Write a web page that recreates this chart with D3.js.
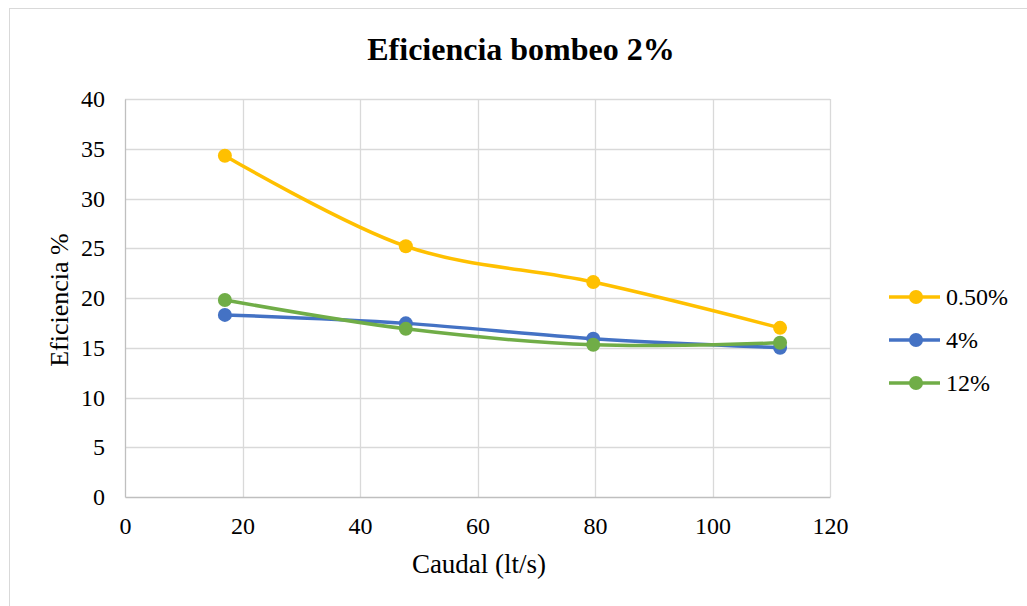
<!DOCTYPE html>
<html><head><meta charset="utf-8">
<script src="https://cdn.jsdelivr.net/npm/d3@7"></script>
<style>body{margin:0;background:#fff}svg{display:block}text{font-family:"Liberation Serif","Times New Roman",serif;fill:#000}</style>
</head><body><svg id="c" width="1027" height="606"></svg>
<script>
const caudal = [17, 47.8, 79.7, 111.5];
const s050 = [34.3, 25.2, 21.6, 17.0];
const s4 = [18.3, 17.45, 15.9, 15.0];
const s12 = [19.8, 16.9, 15.3, 15.5];
const seriesNames = ["0.50%", "4%", "12%"];
const seriesColors = ["#FFC000", "#4472C4", "#70AD47"];
const xTicks = [0, 20, 40, 60, 80, 100, 120];
const yTicks = [0, 5, 10, 15, 20, 25, 30, 35, 40];

const svg = d3.select("#c");
svg.append("rect").attr("x",9.5).attr("y",8.5).attr("width",1040).attr("height",620)
  .attr("fill","#fff").attr("stroke","#d9d9d9");

const x = d3.scaleLinear().domain([0,120]).range([125,830]);
const y = d3.scaleLinear().domain([0,40]).range([497,99]);

// grid
svg.append("g").selectAll("line").data(yTicks.filter(d=>d>0)).join("line")
  .attr("x1",x(0)).attr("x2",x(120)).attr("y1",d=>Math.round(y(d))+0.5).attr("y2",d=>Math.round(y(d))+0.5)
  .attr("stroke","#d9d9d9").attr("stroke-width",1.3);
svg.append("g").selectAll("line").data(xTicks.filter(d=>d>0)).join("line")
  .attr("y1",y(0)).attr("y2",y(40)).attr("x1",d=>Math.round(x(d))+0.5).attr("x2",d=>Math.round(x(d))+0.5)
  .attr("stroke","#d9d9d9").attr("stroke-width",1.3);

// axes
const yAxis = d3.axisLeft(y).tickValues(yTicks).tickSize(0).tickPadding(20);
const gy = svg.append("g").attr("transform",`translate(${x(0)},0)`).call(yAxis);
gy.attr("font-family",null).attr("font-size",null);
gy.select(".domain").attr("stroke","#bfbfbf").attr("stroke-width",1.3);
gy.selectAll("text").style("font-size","24px").style("font-family","'Liberation Serif',serif");
const xAxis = d3.axisBottom(x).tickValues(xTicks).tickSize(0).tickPadding(20);
const gx = svg.append("g").attr("transform",`translate(0,${y(0)})`).call(xAxis);
gx.attr("font-family",null).attr("font-size",null);
gx.select(".domain").attr("stroke","#bfbfbf").attr("stroke-width",1.3);
gx.selectAll("text").style("font-size","24px").style("font-family","'Liberation Serif',serif");

// title & axis titles
svg.append("text").attr("x",521).attr("y",60).attr("text-anchor","middle")
  .style("font-size","32px").style("font-weight","bold").text("Eficiencia bombeo 2%");
svg.append("text").attr("x",479).attr("y",573).attr("text-anchor","middle")
  .style("font-size","27px").text("Caudal (lt/s)");
svg.append("text").attr("transform","translate(68,300) rotate(-90)").attr("text-anchor","middle")
  .style("font-size","26px").text("Eficiencia %");

// series
const allSeries = [s050, s4, s12];
const line = d3.line().x((d,i)=>x(caudal[i])).y(d=>y(d)).curve(d3.curveCardinal.tension(0));
allSeries.forEach((vals,k)=>{
  const g = svg.append("g");
  g.append("path").datum(vals).attr("d",line).attr("fill","none")
    .attr("stroke",seriesColors[k]).attr("stroke-width",3.5).attr("stroke-linecap","round");
  g.selectAll("circle").data(vals).join("circle")
    .attr("cx",(d,i)=>x(caudal[i])).attr("cy",d=>y(d)).attr("r",7).attr("fill",seriesColors[k]);
});

// legend
const legY = [297, 340, 383];
seriesNames.forEach((n,k)=>{
  const g = svg.append("g");
  g.append("line").attr("x1",889).attr("x2",940).attr("y1",legY[k]).attr("y2",legY[k])
    .attr("stroke",seriesColors[k]).attr("stroke-width",3.5);
  g.append("circle").attr("cx",916).attr("cy",legY[k]).attr("r",7).attr("fill",seriesColors[k]);
  g.append("text").attr("x",946).attr("y",legY[k]+8).style("font-size","24px").text(n);
});
</script></body></html>
